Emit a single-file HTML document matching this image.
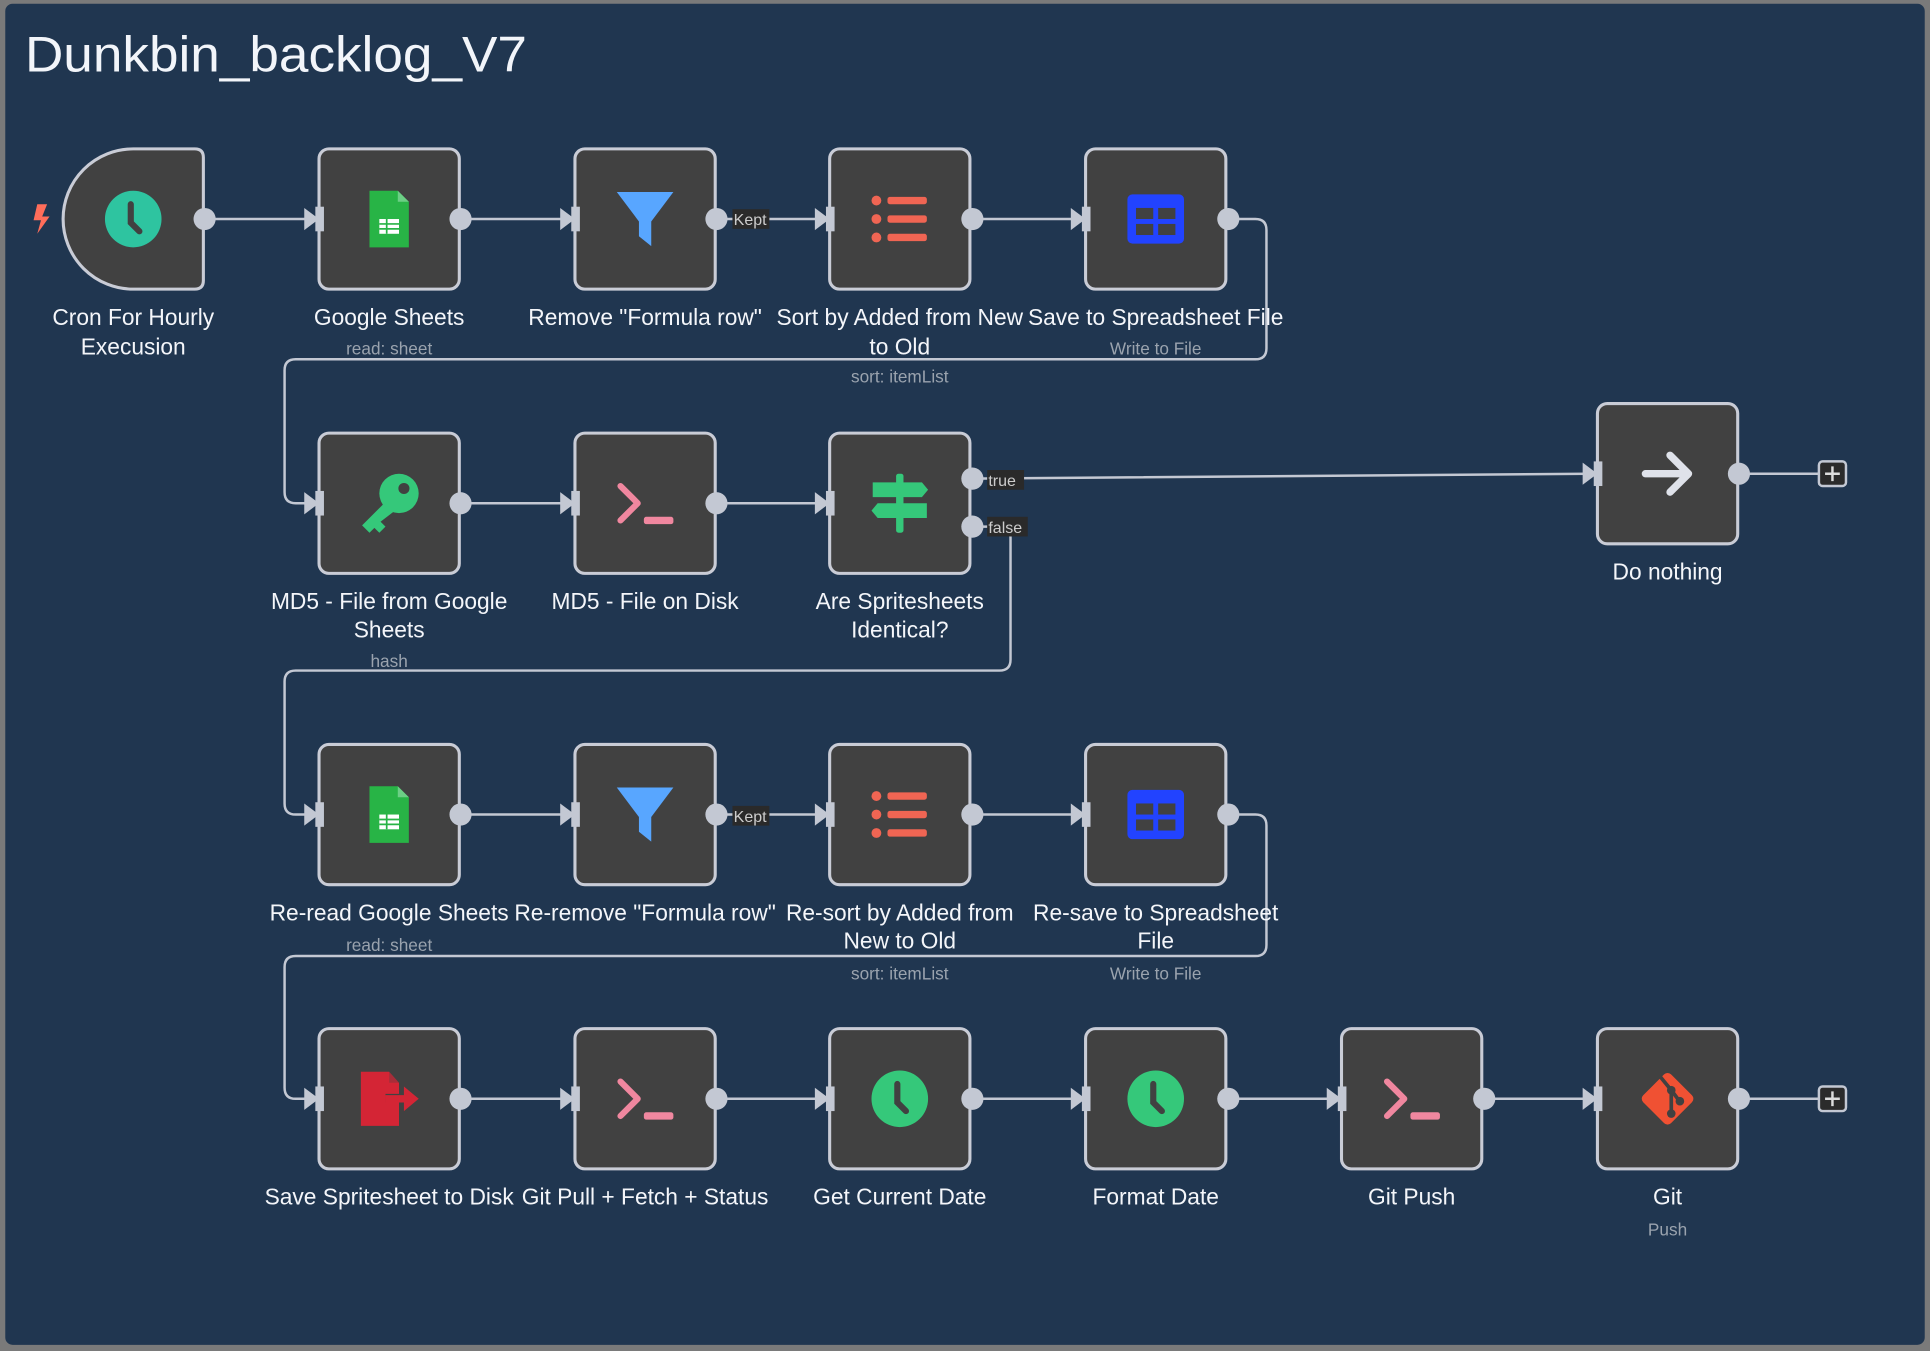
<!DOCTYPE html>
<html><head><meta charset="utf-8"><style>
html,body{margin:0;padding:0;background:#7a7a7a;}
svg{display:block;}
text{font-family:"Liberation Sans",sans-serif;}
.t{fill:#f4f6fa;font-size:18.5px;text-anchor:middle;}
.s{fill:#9aa3ae;font-size:14px;text-anchor:middle;}
.ln{stroke:#c3c8d3;stroke-width:2;fill:none;}
.nd{fill:#414141;stroke:#c9ccd6;stroke-width:2.5;}
.lb{fill:#ccc;font-size:13px;}
</style></head><body>
<svg width="1930" height="1351" viewBox="0 0 1568 1098" xmlns="http://www.w3.org/2000/svg">
<defs>
<g id="in"><path d="M-12,-9 L0,0 L-12,9 Z" fill="#c3c8d3"/><rect x="-3" y="-10" width="7" height="20" fill="#c3c8d3"/></g>
<g id="sheet"><path d="M-16,-23 H7 L16,-14 V23 H-16 Z" fill="#28b446"/><path d="M7,-23 L16,-14 H7Z" fill="#6ccf85"/><rect x="-8" y="0" width="16" height="12" fill="#fff"/><path d="M-8,4H8M-8,8H8M-2,0V12" stroke="#28b446" stroke-width="1.4"/></g>
<g id="filter"><path d="M-23,-22 H23 L5,2 V22 L-5,14 V2 Z" fill="#58a6ff"/></g>
<g id="list"><circle cx="-19" cy="-15" r="4" fill="#f06553"/><circle cx="-19" cy="0" r="4" fill="#f06553"/><circle cx="-19" cy="15" r="4" fill="#f06553"/><rect x="-10" y="-18" width="32" height="6" rx="2" fill="#f06553"/><rect x="-10" y="-3" width="32" height="6" rx="2" fill="#f06553"/><rect x="-10" y="12" width="32" height="6" rx="2" fill="#f06553"/></g>
<g id="table"><rect x="-23" y="-20" width="46" height="40" rx="4" fill="#2243ff"/><rect x="-16" y="-9" width="14" height="9" fill="#414141"/><rect x="2" y="-9" width="14" height="9" fill="#414141"/><rect x="-16" y="4" width="14" height="9" fill="#414141"/><rect x="2" y="4" width="14" height="9" fill="#414141"/></g>
<g id="term"><path d="M-20,-14 L-6,0 L-20,14" stroke="#f0879f" stroke-width="5" fill="none" stroke-linecap="round" stroke-linejoin="round"/><rect x="-1" y="11" width="24" height="6" rx="2" fill="#f0879f"/></g>
<g id="clock"><ellipse cx="0" cy="0" rx="23" ry="23" fill="#35c87a"/><path d="M-2,-12 V3 L5,10" stroke="#414141" stroke-width="5" fill="none" stroke-linecap="round"/></g>
</defs>
<rect x="4" y="3" width="1560" height="1090" rx="6" fill="#203650"/>
<text x="20" y="58" fill="#f2f5fa" font-size="41" textLength="408" lengthAdjust="spacingAndGlyphs" style="font-family:'Liberation Sans',sans-serif">Dunkbin_backlog_V7</text>

<g class="ln">
<path d="M166,178H252M374,178H460M582,178H668M790,178H876M998,178H1020Q1029,178 1029,187V283Q1029,292 1020,292H240Q231,292 231,301V400Q231,409 240,409H252"/>
<path d="M374,409H460M582,409H668M790,389L1292,385M1413,385H1478"/>
<path d="M790,428H812Q821,428 821,437V536Q821,545 812,545H240Q231,545 231,554V653Q231,662 240,662H252"/>
<path d="M374,662H460M582,662H668M790,662H876M998,662H1020Q1029,662 1029,671V768Q1029,777 1020,777H240Q231,777 231,786V884Q231,893 240,893H252"/>
<path d="M374,893H460M582,893H668M790,893H876M998,893H1084M1206,893H1292M1413,893H1478"/>
</g>
<path class="nd" d="M108,121H158Q165,121 165,128V228Q165,235 158,235H108A57,57 0 0 1 51,178A57,57 0 0 1 108,121Z"/>
<path d="M30,166 L38,166 L34,176 L40,176 L30,190 L33,179 L27,179Z" fill="#ff6d5a"/>
<g transform="translate(108,178)"><ellipse cx="0" cy="0" rx="23" ry="23" fill="#2ec4a0"/><path d="M-2,-12 V3 L5,10" stroke="#414141" stroke-width="5" fill="none" stroke-linecap="round"/></g>
<rect class="nd" x="259" y="121" width="114" height="114" rx="8"/>
<rect class="nd" x="467" y="121" width="114" height="114" rx="8"/>
<rect class="nd" x="674" y="121" width="114" height="114" rx="8"/>
<rect class="nd" x="882" y="121" width="114" height="114" rx="8"/>
<use href="#sheet" x="316" y="178"/><use href="#filter" x="524" y="178"/><use href="#list" x="731" y="178"/><use href="#table" x="939" y="178"/>
<g fill="#c3c8d3">
<circle cx="166" cy="178" r="9"/><circle cx="374" cy="178" r="9"/><circle cx="582" cy="178" r="9"/><circle cx="790" cy="178" r="9"/><circle cx="998" cy="178" r="9"/>
</g>
<use href="#in" x="259" y="178"/><use href="#in" x="467" y="178"/><use href="#in" x="674" y="178"/><use href="#in" x="882" y="178"/>
<rect x="595" y="170" width="30" height="16" fill="#2a2a2a"/><text class="lb" x="596" y="183">Kept</text>
<text class="t" x="108" y="264">Cron For Hourly</text><text class="t" x="108" y="288">Execusion</text>
<text class="t" x="316" y="264">Google Sheets</text><text class="s" x="316" y="288">read: sheet</text>
<text class="t" x="524" y="264">Remove "Formula row"</text>
<text class="t" x="731" y="264">Sort by Added from New</text><text class="t" x="731" y="288">to Old</text><text class="s" x="731" y="311">sort: itemList</text>
<text class="t" x="939" y="264">Save to Spreadsheet File</text><text class="s" x="939" y="288">Write to File</text>

<rect class="nd" x="259" y="352" width="114" height="114" rx="8"/>
<rect class="nd" x="467" y="352" width="114" height="114" rx="8"/>
<rect class="nd" x="674" y="352" width="114" height="114" rx="8"/>
<rect class="nd" x="1298" y="328" width="114" height="114" rx="8"/>
<g transform="translate(316,409)"><circle cx="8" cy="-8" r="16" fill="#35c87a"/><circle cx="12" cy="-12" r="4.5" fill="#414141"/><path d="M2,-6 L-22,18 L-16,24 L-12,20 L-8,24 L-3,19 L-7,15 L10,2Z" fill="#35c87a"/></g>
<use href="#term" x="524" y="409"/>
<g transform="translate(731,409)" fill="#35c87a"><rect x="-3" y="-24" width="6" height="48" rx="2"/><path d="M-22,-17 H18 L23,-11 L18,-5 H-22Z"/><path d="M22,0 H-18 L-23,6 L-18,12 H22Z"/></g>
<path d="M1337,385H1371M1357,370L1372,385L1357,400" stroke="#dfe2ea" stroke-width="6" fill="none" stroke-linecap="round" stroke-linejoin="round"/>
<g fill="#c3c8d3">
<circle cx="374" cy="409" r="9"/><circle cx="582" cy="409" r="9"/><circle cx="790" cy="389" r="9"/><circle cx="790" cy="428" r="9"/><circle cx="1413" cy="385" r="9"/>
</g>
<use href="#in" x="259" y="409"/><use href="#in" x="467" y="409"/><use href="#in" x="674" y="409"/><use href="#in" x="1298" y="385"/>
<rect x="802" y="382" width="30" height="16" fill="#2a2a2a"/><text class="lb" x="803" y="395">true</text>
<rect x="802" y="420" width="33" height="16" fill="#2a2a2a"/><text class="lb" x="803" y="433">false</text>
<rect x="1478" y="375" width="22" height="20" rx="3" fill="#2b2b2b" stroke="#c3c8d3" stroke-width="2"/><path d="M1483,385H1495M1489,379V391" stroke="#ddd" stroke-width="2"/>
<text class="t" x="316" y="495">MD5 - File from Google</text><text class="t" x="316" y="518">Sheets</text><text class="s" x="316" y="542">hash</text>
<text class="t" x="524" y="495">MD5 - File on Disk</text>
<text class="t" x="731" y="495">Are Spritesheets</text><text class="t" x="731" y="518">Identical?</text>
<text class="t" x="1355" y="471">Do nothing</text>

<rect class="nd" x="259" y="605" width="114" height="114" rx="8"/>
<rect class="nd" x="467" y="605" width="114" height="114" rx="8"/>
<rect class="nd" x="674" y="605" width="114" height="114" rx="8"/>
<rect class="nd" x="882" y="605" width="114" height="114" rx="8"/>
<use href="#sheet" x="316" y="662"/><use href="#filter" x="524" y="662"/><use href="#list" x="731" y="662"/><use href="#table" x="939" y="662"/>
<g fill="#c3c8d3">
<circle cx="374" cy="662" r="9"/><circle cx="582" cy="662" r="9"/><circle cx="790" cy="662" r="9"/><circle cx="998" cy="662" r="9"/>
</g>
<use href="#in" x="259" y="662"/><use href="#in" x="467" y="662"/><use href="#in" x="674" y="662"/><use href="#in" x="882" y="662"/>
<rect x="595" y="655" width="30" height="16" fill="#2a2a2a"/><text class="lb" x="596" y="668">Kept</text>
<text class="t" x="316" y="748">Re-read Google Sheets</text><text class="s" x="316" y="773">read: sheet</text>
<text class="t" x="524" y="748">Re-remove "Formula row"</text>
<text class="t" x="731" y="748">Re-sort by Added from</text><text class="t" x="731" y="771">New to Old</text><text class="s" x="731" y="796">sort: itemList</text>
<text class="t" x="939" y="748">Re-save to Spreadsheet</text><text class="t" x="939" y="771">File</text><text class="s" x="939" y="796">Write to File</text>

<rect class="nd" x="259" y="836" width="114" height="114" rx="8"/>
<rect class="nd" x="467" y="836" width="114" height="114" rx="8"/>
<rect class="nd" x="674" y="836" width="114" height="114" rx="8"/>
<rect class="nd" x="882" y="836" width="114" height="114" rx="8"/>
<rect class="nd" x="1090" y="836" width="114" height="114" rx="8"/>
<rect class="nd" x="1298" y="836" width="114" height="114" rx="8"/>
<g transform="translate(316,893)" fill="#d42535"><path d="M-23,-22 H0 L8,-13 V-4 H-3 V3 H8 V22 H-23Z"/><path d="M0,-22 L8,-13 H0Z" fill="#414141" opacity=".3"/><path d="M-3,-3 H12 V-10 L24,0 L12,10 V3 H-3Z"/></g>
<use href="#term" x="524" y="893"/><use href="#clock" x="731" y="893"/><use href="#clock" x="939" y="893"/><use href="#term" x="1147" y="893"/>
<g transform="translate(1355,893)"><rect x="-16" y="-16" width="32" height="32" rx="4" fill="#f05133" transform="rotate(45)"/><path d="M-6,-18 L3,-7 V12 M3,-7 L9,1" stroke="#414141" stroke-width="3" fill="none"/><circle cx="3" cy="-7" r="3.5" fill="#414141"/><circle cx="3" cy="12" r="3.5" fill="#414141"/><circle cx="10" cy="2" r="3.5" fill="#414141"/></g>
<g fill="#c3c8d3">
<circle cx="374" cy="893" r="9"/><circle cx="582" cy="893" r="9"/><circle cx="790" cy="893" r="9"/><circle cx="998" cy="893" r="9"/><circle cx="1206" cy="893" r="9"/><circle cx="1413" cy="893" r="9"/>
</g>
<use href="#in" x="259" y="893"/><use href="#in" x="467" y="893"/><use href="#in" x="674" y="893"/><use href="#in" x="882" y="893"/><use href="#in" x="1090" y="893"/><use href="#in" x="1298" y="893"/>
<rect x="1478" y="883" width="22" height="20" rx="3" fill="#2b2b2b" stroke="#c3c8d3" stroke-width="2"/><path d="M1483,893H1495M1489,887V899" stroke="#ddd" stroke-width="2"/>
<text class="t" x="316" y="979">Save Spritesheet to Disk</text>
<text class="t" x="524" y="979">Git Pull + Fetch + Status</text>
<text class="t" x="731" y="979">Get Current Date</text>
<text class="t" x="939" y="979">Format Date</text>
<text class="t" x="1147" y="979">Git Push</text>
<text class="t" x="1355" y="979">Git</text><text class="s" x="1355" y="1004">Push</text>
</svg>
</body></html>
